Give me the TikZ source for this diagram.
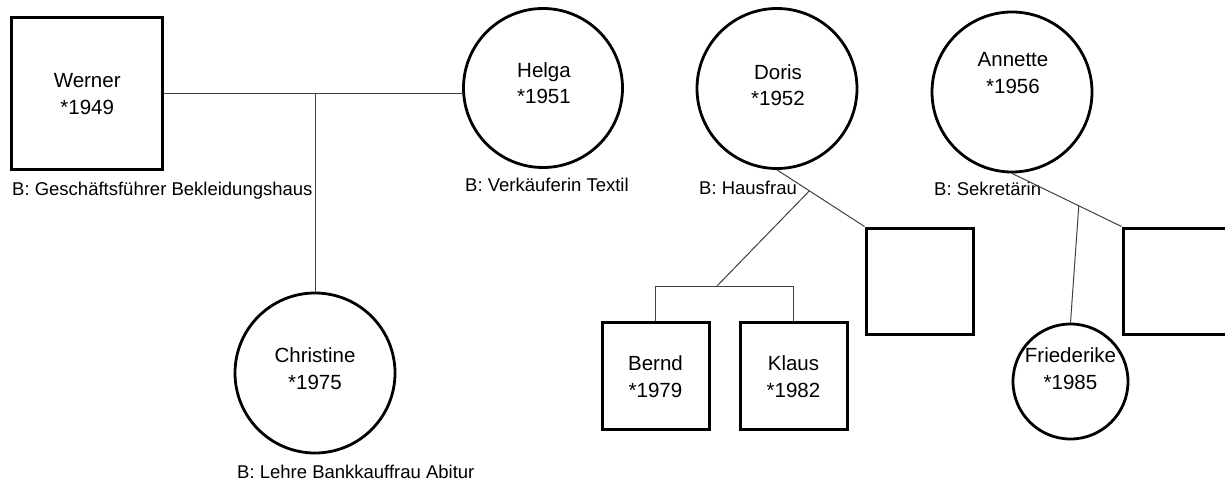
\documentclass[tikz,border=0pt]{standalone}
\usepackage{fontspec}
\setmainfont{Liberation Sans}
\usetikzlibrary{calc}
\begin{document}
\begin{tikzpicture}[x=1pt,y=-1pt,
  male/.style={draw, line width=3pt, rectangle, inner sep=0pt},
  female/.style={draw, line width=2.8pt, circle, inner sep=0pt},
  link/.style={draw=black!75, line width=1pt},
  nm/.style={anchor=base, inner sep=0pt, font=\fontsize{20.5}{24}\selectfont},
  job/.style={anchor=base west, inner sep=0pt, font=\fontsize{18.5}{22}\selectfont}]
\clip (0,0) rectangle (1225,481);

% persons
\node[male, minimum width=151.5pt, minimum height=151.3pt] (werner) at (87.2,93.4) {};
\node[female, minimum size=159pt] (helga) at (543,88) {};
\node[female, minimum size=160pt] (christine) at (315,373) {};
\node[female, minimum size=160pt] (doris) at (777,88.5) {};
\node[male, minimum size=107pt] (bernd) at (655.5,375.5) {};
\node[male, minimum size=107pt] (klaus) at (793.5,375.5) {};
\node[male, minimum width=107pt, minimum height=106pt] (partnerA) at (919.5,281) {};
\node[female, minimum size=160pt] (annette) at (1012,92) {};
\node[female, minimum size=115pt] (friederike) at (1070.5,381.5) {};
\node[male, minimum width=107pt, minimum height=106pt] (partnerB) at (1176.5,281) {};

% names and years
\node[nm] (wernerN) at (87.2,87.3) {Werner};
\node[nm] (wernerY) at (87.2,115) {*1949};
\node[nm] (helgaN) at (544,78) {Helga};
\node[nm] (helgaY) at (544,104) {*1951};
\node[nm] (dorisN) at (778,80) {Doris};
\node[nm] (dorisY) at (778,105.7) {*1952};
\node[nm] (annetteN) at (1013,66.7) {Annette};
\node[nm] (annetteY) at (1013,93.3) {*1956};
\node[nm] (christineN) at (315,362.3) {Christine};
\node[nm] (christineY) at (315,389) {*1975};
\node[nm] (friederikeN) at (1070.5,362) {Friederike};
\node[nm] (friederikeY) at (1070.5,389) {*1985};
\node[nm] (berndN) at (655.5,370) {Bernd};
\node[nm] (berndY) at (655.5,397) {*1979};
\node[nm] (klausN) at (793.5,370) {Klaus};
\node[nm] (klausY) at (793.5,397) {*1982};

% occupations
\node[job] (wernerB) at (12,195) {B: Geschäftsführer Bekleidungshaus};
\node[job] (helgaB) at (465,192) {B: Verkäuferin Textil};
\node[job] (dorisB) at (699,194.3) {B: Hausfrau};
\node[job] (annetteB) at (934,196) {B: Sekretärin};
\node[job] (christineB) at (237,478.3) {B: Lehre Bankkauffrau Abitur};

% Werner -- Helga, child Christine
\coordinate (wh) at (christine.north |- werner.east);
\draw[link] (werner.east) -- (werner.east -| helga.west);
\draw[link] (wh) -- (christine.north);

% Doris -- partner, children Bernd and Klaus
\draw[link] (doris.south) -- (partnerA.north west);
\coordinate (dp) at ($(doris.south)!0.37!(partnerA.north west)$);
\coordinate (sib) at (717,286);
\draw[link] (dp) -- (sib);
\draw[link] (bernd.north) |- (klaus.north |- sib) -- (klaus.north);

% Annette -- partner, child Friederike
\draw[link] (annette.south) -- (partnerB.north west);
\coordinate (ap) at ($(annette.south)!0.61!(partnerB.north west)$);
\draw[link] (ap) -- (friederike.north);
\end{tikzpicture}
\end{document}
